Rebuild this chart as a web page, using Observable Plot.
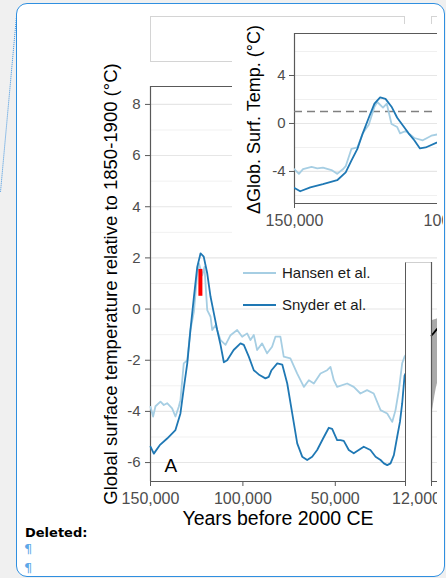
<!DOCTYPE html>
<html><head><meta charset="utf-8">
<script src="https://cdn.jsdelivr.net/npm/d3@7"></script>
<script src="https://cdn.jsdelivr.net/npm/@observablehq/plot@0.6"></script>
<style>
html,body{margin:0;padding:0;width:446px;height:578px;overflow:hidden;background:#f0f0f0;font-family:"Liberation Sans",Arial,sans-serif;}
svg{max-width:none !important;}
.abs{position:absolute;}
.leg{position:absolute;font-size:15px;color:#1a1a1a;line-height:18px;white-space:nowrap;}
.key{position:absolute;height:2px;width:33px;}
</style></head>
<body>
<div id="page" style="position:relative;width:446px;height:578px;">
  <svg class="abs" style="left:0;top:0" width="20" height="200"><line x1="16.5" y1="16" x2="0.5" y2="192" stroke="#3d93e0" stroke-width="1" stroke-dasharray="1,1"/></svg>
  <div class="abs" style="left:16px;top:3px;width:429px;height:574px;box-sizing:border-box;border:1.5px solid #2f8fe0;border-radius:11px;background:#fff;"></div>
  <div id="clipMain" class="abs" style="left:0;top:0;width:437px;height:578px;overflow:hidden;">
    <div id="main" class="abs" style="left:0;top:0;width:446px"></div>
    <div class="abs" style="left:150px;top:16px;width:255px;height:46px;border:1px solid #d4d4d4;box-sizing:border-box"></div>
    <div class="abs" style="left:431px;top:16px;width:30px;height:46px;border-left:1px solid #d4d4d4;border-top:1px solid #d4d4d4"></div>
    <div class="abs" style="left:404.5px;top:262px;width:27px;height:220px;box-sizing:border-box;background:#fff;border-left:1.2px solid #595959;border-right:1.2px solid #595959;border-top:1px solid #cfcfcf"></div>
    <div id="panelB" class="abs" style="left:421px;top:262px;width:60px"></div>
  </div>
  <div id="insetWrap" class="abs" style="left:232px;top:10px;width:211px;height:232px;overflow:hidden;">
    <div class="abs" style="left:0;top:14px;width:211px;height:218px;background:#fff"></div>
    <div id="inset" class="abs" style="left:0;top:0;width:214px"></div>
  </div>
  <div class="key" style="left:243px;top:272px;background:#a6cee3"></div>
  <div class="leg" style="left:282px;top:264px">Hansen et al.</div>
  <div class="key" style="left:243px;top:304px;background:#1f78b4"></div>
  <div class="leg" style="left:282px;top:296px">Snyder et al.</div>
  <div class="abs" style="left:25px;top:525px;font-family:'DejaVu Sans';font-weight:bold;font-size:13px;line-height:15px;color:#000">Deleted:</div>
  <div class="abs" style="left:24px;top:541px;font-family:'DejaVu Sans';font-size:13px;line-height:15px;color:#5ea8e8">¶</div>
  <div class="abs" style="left:24px;top:560px;font-family:'DejaVu Sans';font-size:13px;line-height:15px;color:#5ea8e8">¶</div>
</div>
<script>
// ---- data ----
const snyderYears = [150000,148200,145000,141000,136500,133800,132000,130100,128400,126500,124700,122900,121200,119300,117500,115700,113900,112100,110300,108500,105000,101300,99500,96800,94100,91000,87800,86000,84500,81400,78700,76000,73300,70600,67900,65200,62500,59800,56600,53500,51700,49000,47200,45400,42700,40000,37300,34600,31000,28200,25500,23700,21900,20100,18300,16500,15000,13800,12500,12000];
const snyderTemps = [-5.38,-5.65,-5.32,-5.06,-4.73,-4.08,-3.10,-2.12,-0.82,0.48,1.65,2.18,2.05,1.40,0.48,-0.17,-0.82,-1.40,-2.08,-2.00,-1.60,-1.34,-1.40,-1.86,-2.39,-2.58,-2.71,-2.65,-2.39,-2.12,-2.17,-2.91,-4.08,-5.25,-5.77,-5.90,-5.77,-5.51,-5.06,-4.64,-4.68,-5.12,-5.12,-5.15,-5.51,-5.64,-5.51,-5.38,-5.51,-5.77,-5.90,-6.03,-6.10,-6.03,-5.71,-4.99,-4.41,-3.69,-2.60,-2.52];
const hansenYears = [150000,148600,147300,144600,142800,141000,138300,136500,134700,133800,132000,130100,128400,126500,124700,123800,122000,120800,119300,117500,116600,114800,112100,109400,106700,103100,100400,97700,95900,94100,92300,89600,86900,84200,82400,79700,77900,74300,70600,67000,64300,61600,58000,54400,52600,50800,49000,43600,40000,36400,32800,29200,25500,21900,19200,17400,15600,13800,12500,12000];
const hansenTemps = [-3.82,-4.20,-3.80,-3.62,-3.75,-3.68,-3.88,-4.20,-3.82,-3.56,-2.12,-2.00,-0.82,-0.10,1.40,1.79,1.32,1.65,-0.04,-0.30,-0.82,-0.63,-1.21,-1.40,-1.02,-0.82,-1.08,-0.95,-1.21,-1.01,-1.60,-1.34,-1.73,-1.47,-1.08,-1.08,-1.86,-1.93,-2.52,-3.04,-2.78,-2.91,-2.52,-2.39,-2.26,-2.78,-3.04,-2.91,-3.04,-3.30,-3.17,-3.30,-3.95,-4.08,-4.41,-3.95,-3.17,-2.12,-1.86,-1.80];
const redBarYear = [123000];
const redBarLow = [0.5];
const redBarHigh = [1.55];
const panelBYears = [12000,11950,11900,11850,11800,11700];
const panelBMean = [-1.02,-0.95,-0.87,-0.79,-0.72,-0.62];
const panelBLow = [-4.2,-3.8,-3.4,-3.05,-2.8,-2.4];
const panelBHigh = [-0.45,-0.42,-0.40,-0.38,-0.36,-0.33];
const mainXTicks = [150000,100000,50000,12000];
const mainYTicks = [-6,-4,-2,0,2,4,6,8];
const mainMinorGrid = [-5,-3,-1,1,3,5,7];
const insetXTicks = [150000,100000];
const insetYTicks = [-4,0,4];
const insetMinorGrid = [-6,-2,2,6];
const insetReference = [1];
const mainXDomain = [150000, 12000];
const mainYDomain = [-6.74, 8.7];
const insetXDomain = [150000, 104750];
const insetYDomain = [-6.67, 7.5];
const panelBXDomain = [12000, 10500];
const panelBYDomain = [-6.74, 1.84];
const yLabel = "Global surface temperature relative to 1850-1900 (°C)";
const xLabel = "Years before 2000 CE";
const insetLabel = "ΔGlob. Surf. Temp. (°C)";

const snyder = snyderYears.map((year, i) => ({year, temp: snyderTemps[i]}));
const hansen = hansenYears.map((year, i) => ({year, temp: hansenTemps[i]}));
const redBar = redBarYear.map((year, i) => ({year, low: redBarLow[i], high: redBarHigh[i]}));
const panelB = panelBYears.map((year, i) => ({year, mean: panelBMean[i], low: panelBLow[i], high: panelBHigh[i]}));

const dark = "#1f78b4", light = "#a6cee3", axisCol = "#595959", tickText = "#4d4d4d";
const font = "Liberation Sans, Arial, sans-serif";
const fmt = d3.format(",");
const plain = d => String(d);

const main = Plot.plot({
  width: 446, height: 540,
  marginLeft: 150, marginRight: 41, marginTop: 86, marginBottom: 59,
  style: {background: "transparent", fontFamily: font, color: tickText, maxWidth: "none"},
  x: {domain: mainXDomain, label: null},
  y: {domain: mainYDomain, label: null},
  marks: [
    Plot.ruleY(mainMinorGrid, {stroke: "#f1f1f1", strokeWidth: 1, insetRight: -32}),
    Plot.ruleY(mainYTicks, {stroke: "#e6e6e6", strokeWidth: 1.1, insetRight: -32}),
    Plot.ruleX([mainXDomain[0]], {stroke: axisCol, strokeWidth: 1.2}),
    Plot.ruleY([mainYDomain[0]], {stroke: axisCol, strokeWidth: 1.2}),
    Plot.ruleY([mainYDomain[1]], {stroke: axisCol, strokeWidth: 1.2}),
    Plot.axisY(mainYTicks, {tickSize: 5, tickPadding: 5, fontSize: 15, stroke: axisCol, fill: tickText, label: null, tickFormat: plain}),
    Plot.axisX(mainXTicks, {tickSize: 5, tickPadding: 6, fontSize: 16, stroke: axisCol, fill: tickText, label: null, tickFormat: d => d === 12000 ? "" : fmt(d)}),
    Plot.axisX([12000], {tickSize: 0, tickPadding: 11, dx: 11, fontSize: 16, fill: tickText, label: null, tickFormat: fmt}),
    Plot.line(hansen, {x: "year", y: "temp", stroke: light, strokeWidth: 1.8}),
    Plot.line(snyder, {x: "year", y: "temp", stroke: dark, strokeWidth: 1.8}),
    Plot.ruleX(redBar, {x: "year", y1: "low", y2: "high", stroke: "#ff0000", strokeWidth: 4}),
    Plot.text(["A"], {frameAnchor: "bottom-left", dx: 14, dy: -10, fontSize: 19, fill: "#000"}),
    Plot.text([yLabel], {frameAnchor: "left", textAnchor: "middle", lineAnchor: "middle", rotate: -90, dx: -39, fontSize: 18.5, fill: "#000"}),
    Plot.text([xLabel], {frameAnchor: "bottom", textAnchor: "middle", lineAnchor: "middle", dy: 37.5, fontSize: 19.5, fill: "#000"})
  ]
});
document.getElementById("main").appendChild(main);

const pb = Plot.plot({
  width: 60, height: 249,
  marginLeft: 10, marginRight: 0, marginTop: 0, marginBottom: 30,
  style: {background: "transparent", fontFamily: font, maxWidth: "none"},
  x: {domain: panelBXDomain, label: null},
  y: {domain: panelBYDomain, label: null, axis: null},
  marks: [
    Plot.areaY(panelB, {x: "year", y1: "low", y2: "high", fill: "#aaaaaa"}),
    Plot.line(panelB, {x: "year", y: "mean", stroke: "#000", strokeWidth: 1.8}),
    Plot.ruleX([panelBXDomain[0]], {stroke: axisCol, strokeWidth: 1.2}),
    Plot.ruleY([panelBYDomain[0]], {stroke: axisCol, strokeWidth: 1.2}),
    Plot.axisX([12000], {tickSize: 5, stroke: axisCol, label: null, tickFormat: () => ""})
  ]
});
document.getElementById("panelB").appendChild(pb);

const inset = Plot.plot({
  width: 214, height: 232,
  marginLeft: 62, marginRight: 9, marginTop: 23, marginBottom: 39,
  style: {background: "transparent", fontFamily: font, color: tickText, maxWidth: "none"},
  x: {domain: insetXDomain, label: null},
  y: {domain: insetYDomain, label: null},
  marks: [
    Plot.ruleY(insetMinorGrid, {stroke: "#f0f0f0", strokeWidth: 1.1}),
    Plot.ruleY(insetYTicks, {stroke: "#e6e6e6", strokeWidth: 1.2}),
    Plot.ruleX([insetXDomain[0]], {stroke: axisCol, strokeWidth: 1.2}),
    Plot.ruleY([insetYDomain[0]], {stroke: axisCol, strokeWidth: 1.2}),
    Plot.ruleY([insetYDomain[1]], {stroke: axisCol, strokeWidth: 1.2}),
    Plot.ruleY(insetReference, {stroke: "#808080", strokeWidth: 1.5, strokeDasharray: "8,5"}),
    Plot.line(hansen, {x: "year", y: "temp", stroke: light, strokeWidth: 1.8, clip: true}),
    Plot.line(snyder, {x: "year", y: "temp", stroke: dark, strokeWidth: 1.8, clip: true}),
    Plot.axisY(insetYTicks, {tickSize: 5, tickPadding: 4, fontSize: 15, stroke: axisCol, fill: tickText, label: null, tickFormat: plain}),
    Plot.axisX(insetXTicks, {tickSize: 5, tickPadding: 6, fontSize: 16, stroke: axisCol, fill: tickText, label: null, tickFormat: fmt}),
    Plot.text([insetLabel], {frameAnchor: "left", textAnchor: "middle", lineAnchor: "middle", rotate: -90, dx: -40, dy: 1, fontSize: 18, fill: "#000"})
  ]
});
document.getElementById("inset").appendChild(inset);
</script>
</body></html>
